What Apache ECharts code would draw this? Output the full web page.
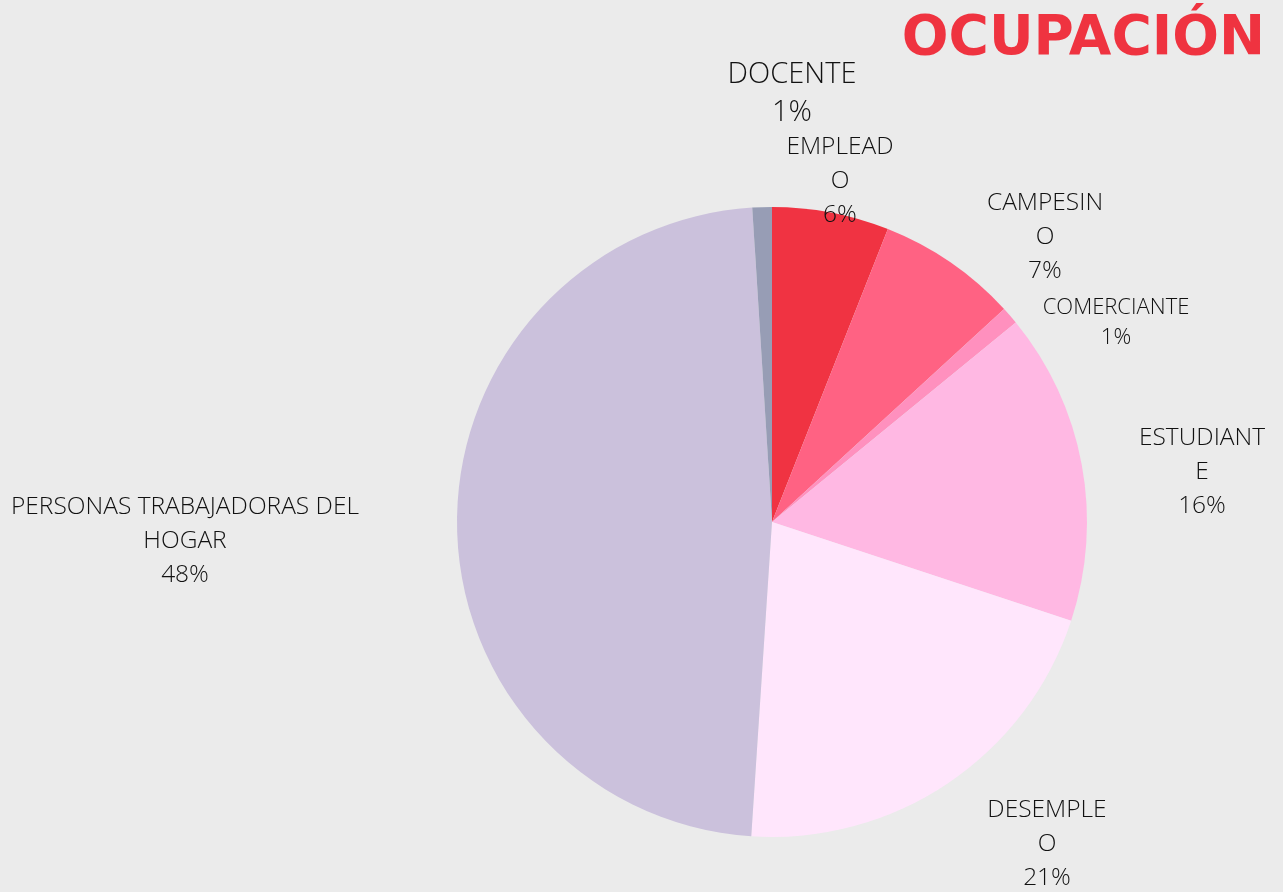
<!DOCTYPE html>
<html>
<head>
<meta charset="utf-8">
<script src="https://cdn.jsdelivr.net/npm/echarts@6/dist/echarts.min.js"></script>
<style>
  html, body { margin: 0; padding: 0; background: #ebebeb; }
  #chart { width: 1283px; height: 892px; }
</style>
</head>
<body>
<div id="chart"></div>
<script>
// categories (labels as broken in the original) and values, clockwise from top
const categories = ['EMPLEAD\nO', 'CAMPESIN\nO', 'COMERCIANTE', 'ESTUDIANT\nE', 'DESEMPLE\nO', 'PERSONAS TRABAJADORAS DEL\nHOGAR', 'DOCENTE'];
const values = [6.0, 7.2, 0.9, 16.0, 21.0, 48.0, 1.0];
const colors = ['#f03342', '#ff6283', '#ff90be', '#ffb8e3', '#ffe6fc', '#cbc1dc', '#979db5'];

// where each label sits (label centre, px)
const labelPos = [
  [840, 181], [1045, 237], [1116, 323], [1202, 472], [1047, 844], [185, 541], [792, 94]
];

const chart = echarts.init(document.getElementById('chart'));

const option = {
  backgroundColor: '#ebebeb',
  title: {
    text: 'OCUPACIÓN',
    right: 13,
    top: 7,
    textStyle: {
      fontFamily: 'DejaVu Sans',
      fontWeight: 'bold',
      fontSize: 55,
      color: '#ef3340'
    }
  },
  series: [
    {
      type: 'pie',
      center: [772, 522],
      radius: 315,
      startAngle: 90,
      clockwise: true,
      percentPrecision: 0,
      avoidLabelOverlap: false,
      data: categories.map((name, i) => ({
        name,
        value: values[i],
        itemStyle: { color: colors[i] },
        label: i === 6 ? { fontSize: 29, lineHeight: 38 } :
               i === 2 ? { fontSize: 22, lineHeight: 30 } : {}
      })),
      label: {
        show: true,
        position: 'outside',
        formatter: '{b}\n{d}%',
        fontFamily: 'Open Sans',
        fontWeight: 300,
        fontSize: 24.5,
        lineHeight: 34,
        color: '#111',
        align: 'center',
        verticalAlign: 'middle'
      },
      labelLine: { show: false },
      labelLayout: (params) => ({
        x: labelPos[params.dataIndex][0],
        y: labelPos[params.dataIndex][1],
        align: 'center',
        verticalAlign: 'middle'
      }),
      emphasis: { disabled: true }
    }
  ]
};

chart.setOption(option);
</script>
</body>
</html>
